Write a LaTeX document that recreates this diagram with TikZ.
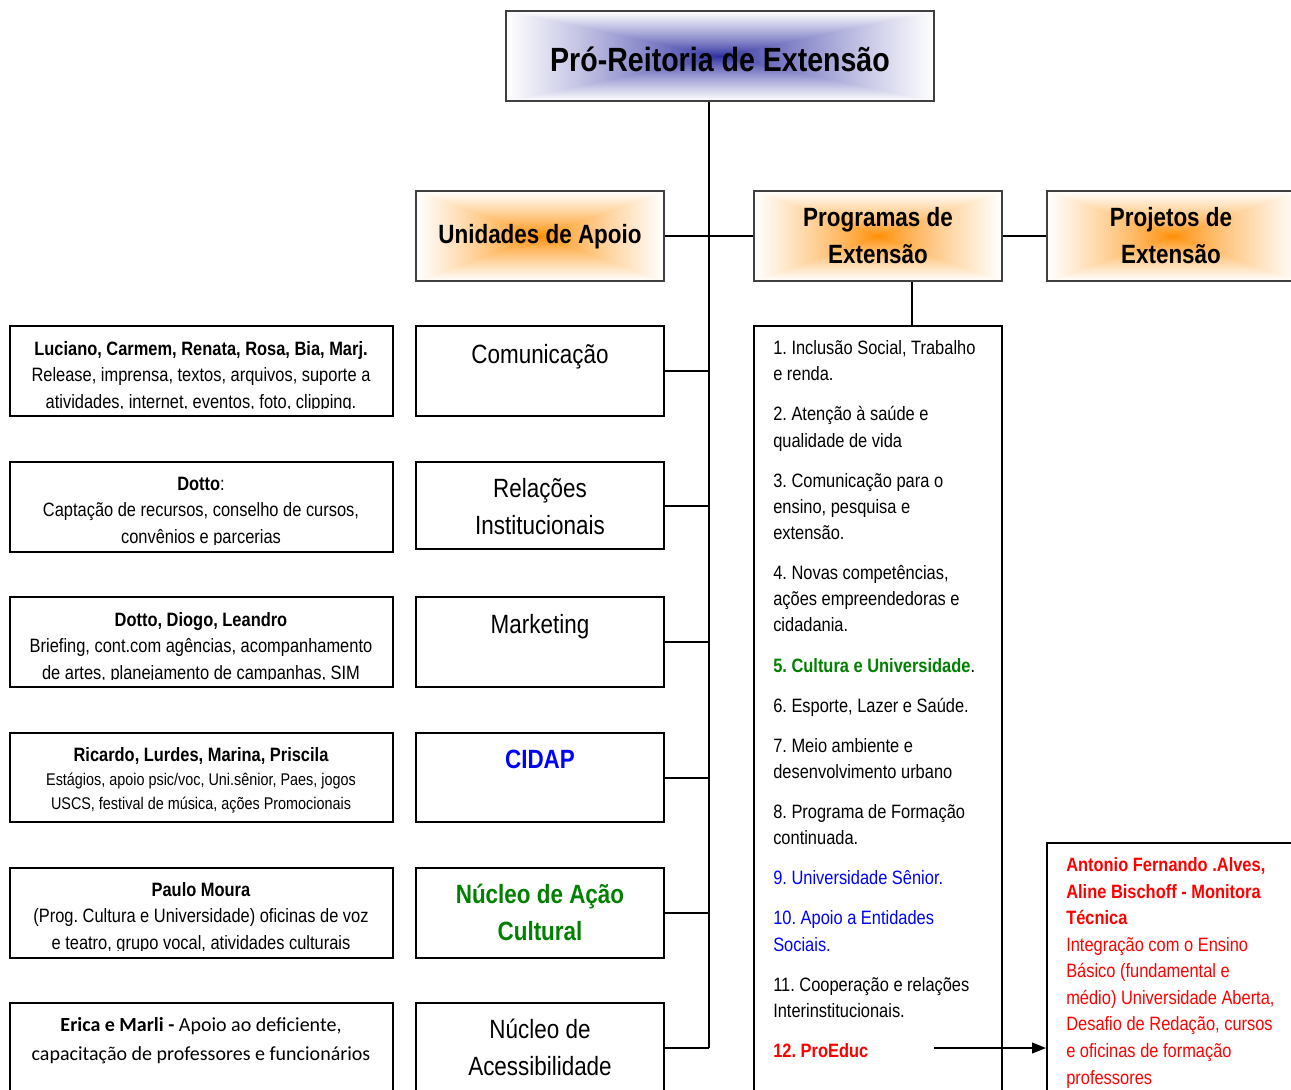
\documentclass[tikz,border=0pt]{standalone}
\usepackage{fontspec}
\setmainfont{Liberation Sans}[FakeStretch=0.85]
\newfontfamily\calib{Carlito}
\usetikzlibrary{fit,arrows.meta}
\newcommand\fsz[2]{\fontsize{#1}{#2}\selectfont}
\definecolor{cgreen}{RGB}{0,128,0}
\definecolor{cblue}{RGB}{0,0,255}
\definecolor{cred}{RGB}{255,0,0}
\definecolor{frame}{RGB}{64,64,64}
\pgfdeclarefunctionalshading{blueglow}{\pgfpoint{-50bp}{-50bp}}{\pgfpoint{50bp}{50bp}}{}{
abs exch abs 2 copy lt {exch} if pop 25 div dup 1 gt {pop 1} if 0.8 exp
dup dup 0.37 mul 0.63 add 3 1 roll 0.83 mul 0.17 add exch 0.83 mul 0.17 add exch 3 -1 roll}
\pgfdeclarefunctionalshading{orangeglow}{\pgfpoint{-50bp}{-50bp}}{\pgfpoint{50bp}{50bp}}{}{
abs exch abs 2 copy lt {exch} if pop 25 div dup 1 gt {pop 1} if 0.8 exp
dup dup 3 1 roll 0.45 mul 0.55 add exch pop 1 exch 3 -1 roll}
\begin{document}
\frenchspacing
\begin{tikzpicture}[x=0.75pt,y=-0.75pt,
  box/.style={draw=black, line width=1.5pt, inner sep=0pt},
  hbox/.style={draw=frame, line width=1.5pt, inner sep=0pt},
  conn/.style={line width=1.5pt},
  hdr/.style={anchor=base, inner sep=0pt, align=center, font=\bfseries\fsz{19.8}{27.75}},
  mtxt/.style={anchor=base, inner sep=0pt, align=center, font=\fsz{19.8}{27.75}},
  ltxt/.style={anchor=base, inner sep=0pt, align=center, font=\fsz{14.5}{19.8}},
  rtxt/.style={anchor=base west, inner sep=0pt, align=left, font=\fsz{14.5}{19.6}}
]
\useasboundingbox (0,0) rectangle (1291,1089);
\fill[white] (0,0) rectangle (1291,1089);
\clip (0,0) rectangle (1291,1089);

% title
\node[hbox, shade, shading=blueglow, fit={(506,11)(934,101)}] (title) {};
\node[anchor=base, inner sep=0pt, font=\bfseries\fsz{25.2}{30}] (titlet) at (720,71) {Pró-Reitoria de Extensão};

% headers
\node[hbox, shade, shading=orangeglow, fit={(416,191)(664,281)}] (unid) {};
\node[hdr] (unidt) at (540,243) {Unidades de Apoio};
\node[hbox, shade, shading=orangeglow, fit={(754,191)(1002,281)}] (prog) {};
\node[hdr] (progt) at (878,263) {Programas de\\Extensão};
\node[hbox, shade, shading=orangeglow, fit={(1047,191)(1298,281)}] (proj) {};
\node[hdr] (projt) at (1171,263) {Projetos de\\Extensão};

% middle column
\node[box, fit={(416,326)(664,416)}] (com) {};
\node[mtxt] (comt) at (540,363) {Comunicação};
\node[box, fit={(416,462)(664,549)}] (rel) {};
\node[mtxt] (relt) at (540,534) {Relações\\Institucionais};
\node[box, fit={(416,597)(664,687)}] (mkt) {};
\node[mtxt] (mktt) at (540,633) {Marketing};
\node[box, fit={(416,733)(664,822)}] (cidap) {};
\node[mtxt, font=\bfseries\fsz{19.8}{27.75}, text=cblue] (cidapt) at (540,768) {CIDAP};
\node[box, fit={(416,868)(664,958)}] (nac) {};
\node[mtxt, font=\bfseries\fsz{19.8}{27.75}, text=cgreen] (nact) at (540,940) {Núcleo de Ação\\Cultural};
\node[box, fit={(416,1003)(664,1092)}] (nacc) {};
\node[mtxt] (nacct) at (540,1075) {Núcleo de\\Acessibilidade};

% left column
\node[box, fit={(10,326)(393,416)}] (l1) {};
\node[box, fit={(10,462)(393,552)}] (l2) {};
\node[box, fit={(10,597)(393,687)}] (l3) {};
\node[box, fit={(10,733)(393,822)}] (l4) {};
\node[box, fit={(10,868)(393,958)}] (l5) {};
\node[box, fit={(10,1003)(393,1100)}] (l6) {};
\begin{scope}
\clip (l1.north west) rectangle ([yshift=6.5pt]l1.south east);
\node[ltxt] (l1t) at (201,408) {\textbf{Luciano, Carmem, Renata, Rosa, Bia, Marj.}\\Release, imprensa, textos, arquivos, suporte a\\atividades, internet, eventos, foto, clipping.};
\end{scope}
\begin{scope}
\clip (l2.north west) rectangle ([yshift=6.5pt]l2.south east);
\node[ltxt] (l2t) at (201,543) {\textbf{Dotto}:\\Captação de recursos, conselho de cursos,\\convênios e parcerias};
\end{scope}
\begin{scope}
\clip (l3.north west) rectangle ([yshift=6.5pt]l3.south east);
\node[ltxt] (l3t) at (201,679) {\textbf{Dotto, Diogo, Leandro}\\Briefing, cont.com agências, acompanhamento\\de artes, planejamento de campanhas, SIM};
\end{scope}
\node[ltxt, font=\fsz{12.7}{17.4}] (l4t) at (201,809) {{\bfseries\fsz{14.5}{17.4}Ricardo, Lurdes, Marina, Priscila}\\[1pt]Estágios, apoio psic/voc, Uni.sênior, Paes, jogos\\USCS, festival de música, ações Promocionais};
\begin{scope}
\clip (l5.north west) rectangle ([yshift=6.5pt]l5.south east);
\node[ltxt] (l5t) at (201,949) {\textbf{Paulo Moura}\\(Prog. Cultura e Universidade) oficinas de voz\\e teatro, grupo vocal, atividades culturais};
\end{scope}
\node[ltxt, font=\calib\fsz{15}{21.75}] (l6t) at (201,1060) {\textbf{Erica e Marli -} Apoio ao deficiente,\\capacitação de professores e funcionários};

% list of programs
\node[box, fit={(754,326)(1002,1100)}] (list) {};
\node[rtxt] (listt) at (773,1057.5) {1. Inclusão Social, Trabalho\\e renda.\\[10.5pt]
2. Atenção à saúde e\\qualidade de vida\\[10.5pt]
3. Comunicação para o\\ensino, pesquisa e\\extensão.\\[10.5pt]
4. Novas competências,\\ações empreendedoras e\\cidadania.\\[10.5pt]
{\bfseries\color{cgreen}5. Cultura e Universidade}.\\[10.5pt]
6. Esporte, Lazer e Saúde.\\[10.5pt]
7. Meio ambiente e\\desenvolvimento urbano\\[10.5pt]
8. Programa de Formação\\continuada.\\[10.5pt]
{\color{cblue}9. Universidade Sênior.}\\[10.5pt]
{\color{cblue}10. Apoio a Entidades}\\{\color{cblue}Sociais.}\\[10.5pt]
11. Cooperação e relações\\Interinstitucionais.\\[10.5pt]
{\bfseries\color{cred}12. ProEduc}};

% ProEduc project box
\node[box, fit={(1047,843)(1298,1100)}] (red) {};
\node[rtxt, font=\fsz{14.5}{19.9}, text=cred] (redt) at (1066,1084) {\textbf{Antonio Fernando .Alves,}\\\textbf{Aline Bischoff - Monitora}\\\textbf{Técnica}\\Integração com o Ensino\\Básico (fundamental e\\médio) Universidade Aberta,\\Desafio de Redação, cursos\\e oficinas de formação\\professores};

% connectors
\coordinate (trunk) at (709,0);
\draw[conn] (title.south -| trunk) -- (nacc.east -| trunk);
\foreach \n in {com,rel,mkt,cidap,nac,nacc}{\draw[conn] (\n.east) -- (\n.east -| trunk);}
\draw[conn] (unid.east) -- (prog.west);
\draw[conn] (prog.east) -- (proj.west);
\coordinate (pdrop) at (912,0);
\draw[conn] (prog.south -| pdrop) -- (list.north -| pdrop);
\coordinate (arrstart) at (934,1048);
\draw[conn, -{Triangle[length=10.5pt,width=8pt]}] (arrstart) -- (arrstart -| red.west);
\end{tikzpicture}
\end{document}
